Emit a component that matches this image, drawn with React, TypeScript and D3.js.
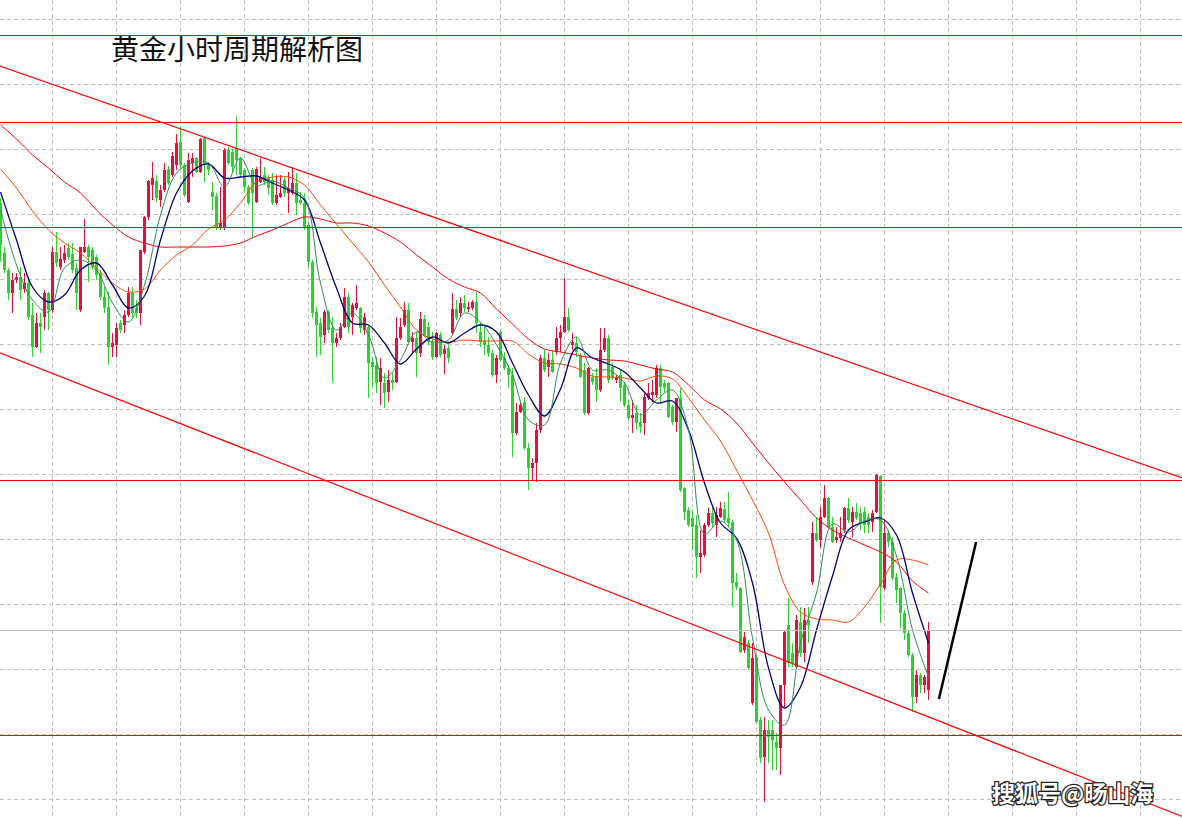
import * as d3 from 'd3';
import React from 'react';

const W = 1182;
const H = 818;

// hourly gold candles (index 0..232)
const opens = [
  1939.7, 1934.7, 1933.0, 1930.7, 1932.0, 1932.3, 1931.1, 1931.7, 1928.5, 1925.3,
  1927.7, 1928.3, 1930.7, 1929.0, 1934.8, 1933.3, 1934.0, 1935.2, 1934.6, 1933.2,
  1929.0, 1934.8, 1935.3, 1935.0, 1934.3, 1932.7, 1930.3, 1929.3, 1925.3, 1925.5,
  1927.7, 1927.5, 1928.5, 1930.7, 1929.2, 1928.7, 1934.8, 1938.3, 1941.5, 1941.9,
  1940.0, 1941.0, 1943.1, 1942.5, 1943.5, 1945.8, 1943.5, 1939.8, 1943.7, 1944.2,
  1942.8, 1946.2, 1943.5, 1940.8, 1940.4, 1937.2, 1937.2, 1945.0, 1944.8, 1945.2,
  1944.2, 1943.0, 1941.3, 1943.0, 1939.8, 1941.8, 1942.5, 1942.2, 1942.0, 1939.7,
  1940.3, 1942.0, 1940.7, 1940.7, 1941.7, 1940.0, 1939.7, 1937.5, 1933.8, 1928.8,
  1927.7, 1926.5, 1928.8, 1927.2, 1925.7, 1926.2, 1927.3, 1930.3, 1928.3, 1929.2,
  1929.2, 1927.0, 1927.3, 1923.8, 1923.5, 1921.8, 1921.7, 1920.8, 1922.0, 1921.8,
  1926.2, 1927.5, 1929.0, 1925.8, 1926.2, 1924.7, 1928.1, 1927.3, 1925.8, 1924.3,
  1926.5, 1924.6, 1925.2, 1926.7, 1929.1, 1928.7, 1929.7, 1929.1, 1929.2, 1929.8,
  1926.8, 1925.9, 1925.5, 1924.7, 1922.5, 1926.8, 1924.2, 1923.2, 1922.5, 1916.7,
  1918.8, 1919.8, 1915.2, 1913.2, 1913.7, 1917.0, 1924.2, 1923.3, 1924.0, 1924.8,
  1926.2, 1926.8, 1928.3, 1925.5, 1925.7, 1924.5, 1923.0, 1918.7, 1922.3, 1922.3,
  1921.0, 1925.0, 1926.2, 1923.3, 1922.0, 1922.5, 1921.5, 1919.5, 1918.2, 1918.7,
  1917.8, 1917.7, 1920.2, 1920.5, 1920.5, 1923.2, 1921.7, 1921.7, 1919.3, 1917.8,
  1920.2, 1911.2, 1909.0, 1908.2, 1907.5, 1904.3, 1904.5, 1907.5, 1908.7, 1907.5,
  1908.3, 1909.1, 1908.2, 1907.8, 1901.8, 1901.2, 1895.0, 1895.7, 1889.7, 1894.3,
  1888.0, 1884.3, 1887.0, 1887.0, 1885.8, 1885.2, 1891.5, 1897.5, 1894.7, 1893.3,
  1897.8, 1894.7, 1898.0, 1901.8, 1906.7, 1906.0, 1908.3, 1910.2, 1907.3, 1906.0,
  1906.2, 1907.0, 1909.2, 1907.8, 1908.8, 1908.7, 1908.8, 1908.3, 1907.8, 1908.8,
  1912.4, 1901.2, 1906.7, 1905.8, 1902.3, 1901.2, 1898.7, 1896.7, 1894.5, 1890.3,
  1892.5, 1891.5, 1891.0,
];
const highs = [
  1940.2, 1935.3, 1933.2, 1932.7, 1932.7, 1933.3, 1932.7, 1932.3, 1929.7, 1928.7,
  1928.7, 1931.0, 1930.8, 1935.3, 1936.8, 1935.3, 1935.5, 1935.7, 1935.7, 1933.7,
  1935.3, 1938.1, 1935.5, 1935.3, 1934.5, 1933.0, 1931.3, 1930.8, 1926.7, 1927.7,
  1928.0, 1929.0, 1931.3, 1931.3, 1930.0, 1935.0, 1938.4, 1942.0, 1943.8, 1942.5,
  1941.5, 1943.7, 1943.4, 1944.8, 1946.6, 1947.4, 1943.7, 1944.7, 1944.7, 1944.3,
  1946.2, 1946.3, 1943.8, 1941.8, 1940.7, 1941.3, 1945.2, 1945.3, 1945.1, 1948.4,
  1944.3, 1943.2, 1941.5, 1943.2, 1943.3, 1944.2, 1943.3, 1942.5, 1942.7, 1942.5,
  1942.5, 1942.3, 1942.8, 1943.3, 1942.7, 1940.8, 1940.7, 1937.8, 1934.0, 1929.3,
  1928.2, 1929.0, 1929.0, 1928.3, 1926.7, 1927.7, 1931.2, 1930.7, 1929.7, 1931.5,
  1929.3, 1928.7, 1927.5, 1924.3, 1924.3, 1924.2, 1922.7, 1923.0, 1922.7, 1928.3,
  1928.2, 1929.8, 1929.7, 1926.8, 1926.8, 1928.8, 1928.5, 1927.8, 1926.8, 1926.8,
  1926.8, 1925.5, 1925.5, 1930.7, 1930.0, 1930.3, 1930.5, 1929.8, 1930.0, 1930.8,
  1927.7, 1927.3, 1926.3, 1925.0, 1924.5, 1927.0, 1924.8, 1923.5, 1923.2, 1919.7,
  1919.8, 1920.3, 1915.7, 1914.2, 1917.7, 1924.5, 1925.0, 1924.7, 1925.0, 1927.3,
  1927.5, 1932.2, 1929.2, 1926.7, 1926.3, 1924.7, 1923.7, 1923.3, 1922.7, 1923.2,
  1927.2, 1927.2, 1926.5, 1923.7, 1922.5, 1923.0, 1921.8, 1920.0, 1920.0, 1919.5,
  1918.7, 1920.7, 1921.7, 1922.0, 1923.5, 1923.5, 1922.0, 1921.8, 1919.5, 1920.2,
  1921.2, 1911.3, 1909.3, 1909.0, 1908.5, 1907.0, 1907.7, 1909.2, 1909.3, 1909.3,
  1909.8, 1909.8, 1910.8, 1908.0, 1902.7, 1901.3, 1896.8, 1896.0, 1895.7, 1894.5,
  1888.3, 1888.3, 1888.0, 1888.0, 1886.7, 1891.5, 1897.0, 1900.2, 1895.7, 1898.5,
  1899.3, 1899.2, 1899.3, 1907.8, 1908.3, 1909.3, 1911.5, 1910.3, 1908.3, 1907.3,
  1908.3, 1909.3, 1910.2, 1909.3, 1909.7, 1909.3, 1909.3, 1908.7, 1909.0, 1912.6,
  1912.5, 1908.0, 1907.0, 1906.3, 1902.7, 1901.3, 1899.0, 1897.0, 1894.7, 1893.0,
  1892.7, 1892.5, 1897.8,
];
const lows = [
  1933.8, 1932.7, 1930.0, 1928.7, 1931.7, 1930.0, 1930.7, 1928.0, 1924.3, 1925.2,
  1924.7, 1927.0, 1927.0, 1928.7, 1933.3, 1933.0, 1933.7, 1934.0, 1932.7, 1929.0,
  1928.8, 1934.7, 1931.8, 1933.0, 1932.0, 1930.0, 1928.7, 1923.5, 1924.3, 1924.3,
  1926.7, 1926.7, 1928.3, 1928.3, 1928.2, 1927.5, 1934.6, 1938.0, 1940.0, 1939.8,
  1939.3, 1940.8, 1941.5, 1942.3, 1943.0, 1943.2, 1940.3, 1939.7, 1942.3, 1942.7,
  1942.7, 1941.8, 1942.5, 1939.0, 1937.0, 1937.0, 1937.0, 1943.5, 1942.8, 1942.5,
  1942.3, 1940.7, 1939.5, 1936.2, 1939.7, 1941.7, 1941.5, 1940.5, 1939.5, 1939.5,
  1940.2, 1940.3, 1938.7, 1940.5, 1938.5, 1939.5, 1937.0, 1933.2, 1928.2, 1924.3,
  1924.5, 1925.7, 1926.7, 1921.7, 1925.3, 1926.0, 1927.2, 1926.7, 1926.5, 1929.0,
  1926.7, 1926.5, 1920.2, 1921.3, 1920.7, 1919.5, 1919.2, 1919.8, 1921.0, 1921.7,
  1926.0, 1927.3, 1925.7, 1924.7, 1922.3, 1924.3, 1926.3, 1925.5, 1924.0, 1924.2,
  1924.3, 1922.6, 1923.7, 1926.5, 1928.0, 1928.3, 1928.8, 1928.8, 1929.0, 1926.7,
  1925.3, 1924.5, 1924.3, 1922.3, 1921.7, 1923.8, 1923.0, 1921.2, 1914.3, 1916.5,
  1918.7, 1915.0, 1911.0, 1912.0, 1911.8, 1916.7, 1922.8, 1922.3, 1922.7, 1924.5,
  1924.8, 1926.7, 1926.8, 1925.0, 1924.3, 1922.2, 1918.5, 1918.5, 1921.5, 1919.8,
  1920.8, 1924.8, 1921.7, 1922.0, 1921.7, 1919.8, 1919.3, 1918.0, 1916.7, 1917.0,
  1916.7, 1916.5, 1920.0, 1919.8, 1920.2, 1919.7, 1920.8, 1918.2, 1917.5, 1916.8,
  1910.8, 1908.0, 1907.3, 1905.0, 1902.2, 1902.7, 1904.3, 1907.3, 1907.3, 1906.3,
  1908.2, 1907.7, 1907.3, 1899.3, 1901.0, 1894.7, 1894.7, 1893.0, 1889.5, 1887.7,
  1883.7, 1879.8, 1883.7, 1883.0, 1883.0, 1882.5, 1889.3, 1893.3, 1893.3, 1893.2,
  1894.3, 1893.8, 1895.7, 1901.5, 1905.8, 1905.2, 1908.2, 1907.2, 1905.7, 1905.7,
  1905.8, 1906.7, 1907.7, 1906.3, 1908.0, 1907.0, 1906.7, 1906.7, 1906.8, 1908.7,
  1897.7, 1901.0, 1905.3, 1902.0, 1899.7, 1897.2, 1896.0, 1894.3, 1888.8, 1889.7,
  1890.7, 1890.7, 1890.0,
];
const closes = [
  1935.5, 1933.0, 1930.7, 1932.0, 1932.3, 1931.0, 1931.7, 1928.3, 1925.3, 1927.7,
  1927.3, 1930.7, 1929.0, 1934.8, 1933.7, 1934.1, 1934.7, 1934.3, 1933.0, 1930.7,
  1935.3, 1935.3, 1934.3, 1933.3, 1932.5, 1930.3, 1929.2, 1925.3, 1925.7, 1927.2,
  1927.0, 1928.5, 1930.7, 1928.7, 1928.7, 1935.0, 1938.3, 1941.9, 1942.2, 1940.2,
  1941.0, 1943.0, 1941.7, 1944.4, 1945.7, 1943.5, 1940.5, 1944.0, 1944.2, 1942.8,
  1946.1, 1943.5, 1943.0, 1940.3, 1937.3, 1937.7, 1945.0, 1943.7, 1943.3, 1944.0,
  1942.5, 1941.3, 1939.7, 1940.7, 1943.1, 1942.3, 1941.8, 1941.2, 1939.7, 1940.5,
  1940.7, 1940.7, 1941.2, 1941.7, 1939.7, 1939.7, 1937.3, 1933.8, 1928.7, 1927.5,
  1926.3, 1928.8, 1927.0, 1925.7, 1926.2, 1927.3, 1930.3, 1927.3, 1929.5, 1929.7,
  1927.2, 1928.3, 1923.7, 1923.3, 1921.7, 1923.2, 1920.7, 1922.0, 1921.7, 1926.2,
  1927.3, 1929.0, 1925.8, 1926.2, 1924.7, 1928.1, 1926.5, 1925.8, 1924.3, 1926.7,
  1924.5, 1925.1, 1924.2, 1929.1, 1928.2, 1929.7, 1929.2, 1929.3, 1929.8, 1927.7,
  1925.8, 1925.5, 1924.7, 1922.5, 1924.2, 1924.0, 1923.2, 1922.5, 1916.7, 1918.8,
  1919.5, 1915.2, 1913.2, 1913.7, 1917.0, 1924.2, 1923.0, 1924.0, 1922.8, 1926.2,
  1926.8, 1928.3, 1927.0, 1925.8, 1924.8, 1922.3, 1918.7, 1923.2, 1921.8, 1921.0,
  1925.0, 1926.2, 1922.0, 1922.2, 1922.3, 1921.2, 1919.5, 1918.2, 1918.5, 1917.7,
  1917.3, 1920.3, 1920.7, 1920.8, 1923.2, 1921.3, 1921.2, 1918.3, 1917.8, 1920.2,
  1911.0, 1908.8, 1907.5, 1907.3, 1904.3, 1904.7, 1907.5, 1908.7, 1907.7, 1908.5,
  1909.2, 1908.0, 1907.7, 1901.7, 1901.3, 1894.8, 1896.3, 1893.2, 1894.2, 1887.8,
  1884.2, 1887.0, 1886.3, 1886.0, 1885.2, 1891.5, 1896.8, 1893.7, 1893.7, 1898.0,
  1894.7, 1898.0, 1897.5, 1906.7, 1906.0, 1908.3, 1910.2, 1907.3, 1905.8, 1906.3,
  1906.7, 1909.2, 1908.0, 1908.8, 1908.2, 1907.7, 1907.5, 1907.5, 1908.7, 1912.5,
  1901.3, 1906.7, 1905.8, 1902.2, 1901.0, 1898.7, 1896.7, 1894.5, 1890.3, 1892.5,
  1891.5, 1892.3, 1897.0,
];

// moving averages, one reading every 4 candles
const maStep = 4;
const maFast = [
  1939.0, 1933.5, 1930.0, 1928.8, 1933.2, 1934.0, 1933.0, 1929.7, 1927.8, 1931.5,
  1938.5, 1942.7, 1943.7, 1943.7, 1941.3, 1944.2, 1941.5, 1941.9, 1941.2, 1940.2,
  1931.7, 1927.0, 1928.7, 1926.5, 1922.2, 1924.0, 1926.8, 1925.8, 1926.0, 1928.7,
  1927.8, 1925.5, 1922.5, 1918.0, 1917.5, 1923.7, 1926.3, 1923.0, 1923.0, 1921.7,
  1918.5, 1920.0, 1921.0, 1917.0, 1906.6, 1907.9, 1906.0, 1896.2, 1889.0, 1887.5,
  1895.7, 1900.7, 1907.6, 1906.8, 1907.9, 1908.0, 1904.4, 1897.0, 1892.3,
];
const maMid = [
  1940.8, 1936.0, 1931.3, 1929.8, 1930.5, 1933.0, 1933.7, 1931.5, 1929.2, 1930.4,
  1936.0, 1940.7, 1942.9, 1943.6, 1942.2, 1942.3, 1942.4, 1941.7, 1941.0, 1940.0,
  1935.7, 1931.2, 1927.7, 1927.5, 1925.7, 1923.6, 1925.1, 1926.3, 1925.7, 1926.7,
  1927.5, 1926.8, 1923.7, 1920.5, 1918.4, 1921.1, 1925.2, 1924.2, 1923.6, 1922.8,
  1921.2, 1919.7, 1919.9, 1917.0, 1911.7, 1907.7, 1906.2, 1901.7, 1893.2, 1889.2,
  1891.3, 1897.0, 1902.4, 1907.0, 1907.8, 1908.2, 1906.5, 1900.7, 1895.7,
];
const maSlow = [
  1943.1, 1941.2, 1938.9, 1937.0, 1935.7, 1934.7, 1933.2, 1931.7, 1930.8, 1931.1,
  1933.0, 1934.5, 1935.5, 1937.1, 1938.0, 1939.7, 1941.8, 1942.3, 1942.3, 1941.5,
  1939.5, 1937.6, 1935.7, 1933.8, 1931.5, 1929.3, 1927.0, 1926.1, 1925.8, 1926.0,
  1925.9, 1925.9, 1925.9, 1924.6, 1923.7, 1923.6, 1923.2, 1922.4, 1922.3, 1922.2,
  1921.9, 1922.4, 1922.1, 1920.2, 1918.0, 1915.9, 1913.0, 1910.0, 1906.7, 1901.5,
  1898.8, 1898.1, 1898.0, 1897.8, 1899.3, 1901.6, 1904.0, 1904.0, 1903.5,
];
const maLong = [
  1947.5, 1946.1, 1944.5, 1943.2, 1941.8, 1940.7, 1939.0, 1937.5, 1936.3, 1935.7,
  1935.3, 1935.3, 1935.3, 1935.3, 1935.4, 1935.7, 1936.4, 1937.0, 1937.7, 1938.3,
  1938.1, 1937.7, 1937.7, 1937.4, 1936.7, 1935.8, 1934.5, 1933.3, 1932.1, 1931.3,
  1930.7, 1929.1, 1927.6, 1926.1, 1925.1, 1924.8, 1924.5, 1924.2, 1924.0, 1923.9,
  1923.5, 1923.1, 1922.8, 1921.5, 1920.0, 1919.1, 1917.7, 1915.7, 1913.7, 1911.8,
  1910.0, 1908.2, 1907.0, 1906.2, 1905.5, 1904.8, 1903.8, 1901.9, 1900.7,
];

// drawn levels and lines
const levelPrices = [1956.5, 1947.8, 1937.2, 1911.9, 1886.5];
const pivotPrices = [1897.0];
const gridPrices = [1958.1, 1951.6, 1945.1, 1938.6, 1932.1, 1925.6, 1919.1, 1912.6, 1906.1, 1899.6, 1893.1, 1886.6, 1880.1];
const gridBars = [13, 29, 45, 61, 77, 93, 109, 125, 141, 157, 173, 189, 205, 221, 237, 253, 269, 285];
const channelUpper: [number, number][] = [[0, 1953.38], [232, 1921.04]];
const channelLower: [number, number][] = [[0, 1924.69], [232, 1888.31]];
const reboundArrow: [number, number][] = [[234.6, 1890.1], [243.9, 1905.8]];

const title = '黄金小时周期解析图';
const watermark = '搜狐号@旸山海';

const App: React.FC = () => {
  const x = d3.scaleLinear().domain([0, 232]).range([0.5, 928.5]);
  const y = d3.scaleLinear().domain([1878.2, 1960]).range([H, 0]);
  const crisp = (v: number) => Math.floor(v) + 0.5;

  const maLine = d3.line<number>()
    .x((_, k) => x(k * maStep))
    .y(d => y(d))
    .curve(d3.curveCatmullRom.alpha(0.5));

  // stretch a two-point segment across the whole plot
  const extend = (seg: [number, number][]) => {
    const [[i1, p1], [i2, p2]] = seg;
    const s = (p2 - p1) / (i2 - i1);
    const a = -10, b = 320;
    return { x1: x(a), y1: y(p1 + s * (a - i1)), x2: x(b), y2: y(p1 + s * (b - i1)) };
  };
  const up = extend(channelUpper);
  const low = extend(channelLower);

  const mas = [
    { data: maLong, color: '#ff0000', w: 1 },
    { data: maSlow, color: '#ff4500', w: 1 },
    { data: maMid, color: '#000080', w: 1.3 },
    { data: maFast, color: '#2e8b57', w: 1 },
  ];

  return (
    <div style={{ position: 'absolute', left: 0, top: 0 }}>
      <svg width={W} height={H} style={{ display: 'block', background: '#fff' }}>
        {/* grid */}
        <g stroke="#c0c0c0" strokeWidth={1} strokeDasharray="4,3" shapeRendering="crispEdges">
          {gridPrices.map(p => (
            <line key={'h' + p} x1={0} x2={W} y1={crisp(y(p))} y2={crisp(y(p))} />
          ))}
          {gridBars.map(b => (
            <line key={'v' + b} x1={crisp(x(b))} x2={crisp(x(b))} y1={0} y2={H} />
          ))}
        </g>

        {/* candles */}
        <g shapeRendering="crispEdges">
          {opens.map((o, i) => {
            const c = closes[i];
            const col = c >= o ? '#dc143c' : '#32cd32';
            const top = y(Math.max(o, c));
            const bh = Math.max(1, Math.abs(y(o) - y(c)));
            return (
              <g key={i}>
                <line x1={x(i)} x2={x(i)} y1={y(highs[i])} y2={y(lows[i])} stroke={col} strokeWidth={1} />
                <rect x={x(i) - 1.5} y={top} width={3} height={bh} fill={col} />
              </g>
            );
          })}
        </g>

        {/* moving averages */}
        {mas.map((m, k) => (
          <path key={k} d={maLine(m.data) || ''} fill="none" stroke={m.color} strokeWidth={m.w} />
        ))}

        {/* horizontal levels */}
        {pivotPrices.map(p => (
          <line key={'p' + p} x1={0} x2={W} y1={crisp(y(p))} y2={crisp(y(p))} stroke="#c0c0c0" strokeWidth={1} />
        ))}
        {levelPrices.map(p => (
          <line key={'l' + p} x1={0} x2={W} y1={crisp(y(p))} y2={crisp(y(p))} stroke="#ff0000" strokeWidth={1} />
        ))}

        {/* channel */}
        <line {...up} stroke="#ff0000" strokeWidth={1.2} />
        <line {...low} stroke="#ff0000" strokeWidth={1.2} />

        {/* rebound sketch */}
        <line
          x1={x(reboundArrow[0][0])} y1={y(reboundArrow[0][1])}
          x2={x(reboundArrow[1][0])} y2={y(reboundArrow[1][1])}
          stroke="#000" strokeWidth={2.5}
        />

        <text x={111} y={60} fontFamily="'Noto Sans CJK SC', sans-serif" fontSize={28} fill="#111">
          {title}
        </text>
        <text
          x={992} y={802}
          fontFamily="'Noto Sans CJK SC', sans-serif" fontSize={23} fontWeight="bold"
          fill="#fff" stroke="#222" strokeWidth={2.5} paintOrder="stroke"
        >
          {watermark}
        </text>
      </svg>
    </div>
  );
};

export default App;
